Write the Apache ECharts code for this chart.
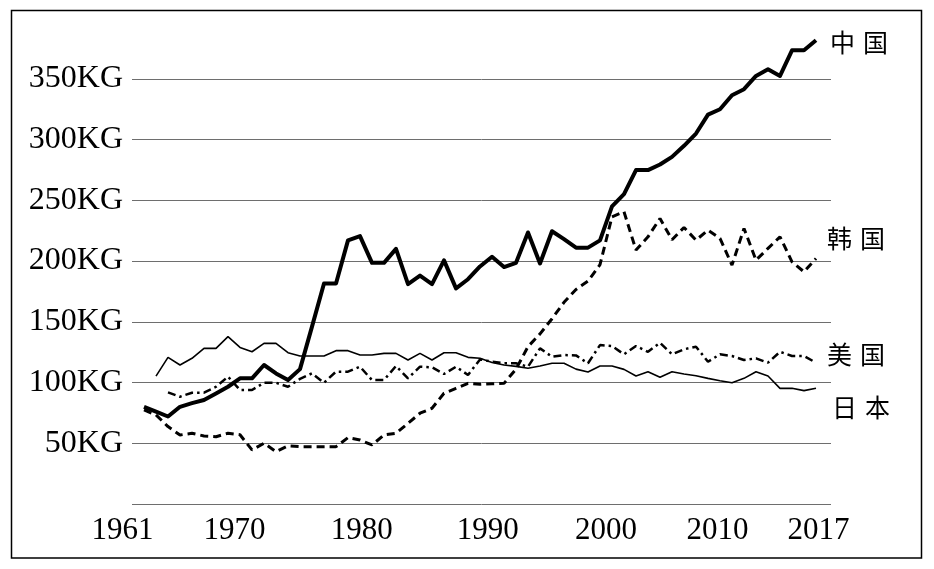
<!DOCTYPE html>
<html>
<head>
<meta charset="utf-8">
<script src="https://cdn.jsdelivr.net/npm/echarts@6/dist/echarts.min.js"></script>
<style>
html,body{margin:0;padding:0;background:#fff;}
#chart{width:934px;height:569px;}
</style>
</head>
<body>
<div id="chart"></div>
<script>
// ---- data ----
const years = [1961,1962,1963,1964,1965,1966,1967,1968,1969,1970,
  1971,1972,1973,1974,1975,1976,1977,1978,1979,1980,
  1981,1982,1983,1984,1985,1986,1987,1988,1989,1990,
  1991,1992,1993,1994,1995,1996,1997,1998,1999,2000,
  2001,2002,2003,2004,2005,2006,2007,2008,2009,2010,
  2011,2012,2013,2014,2015,2016,2017];

const china = [80,76,72,80,83,85.6,91,96.5,103.4,103.4,
  114.4,107.5,102,111,146,181.5,181.5,217,220.5,198.5,
  198.5,210,181,188,181,200.5,177.5,185,195.5,203.5,
  195,198.5,223.5,198,224.5,218,211,211,217,245,
  255,274.8,274.8,279.4,285.7,294.8,304.9,320.5,324.9,336.4,
  341.4,352.3,357.8,352.3,373.4,373.4,381.7];

const korea = [77.4,73.3,63.7,56.8,58.2,56,55.4,58.2,57,44.5,
  50,43.1,47.8,47.2,47.2,47.2,47.2,54.6,52.7,48.6,
  56.8,58.2,66.4,74.7,78.8,91.1,95.2,99.3,98.5,99,
  99.3,111,129.5,140,152.5,166,176.6,183.5,197,236.4,
  240.5,209,219.9,235,217.5,227.6,217.2,225.4,218.6,196.6,
  226.8,200.7,210.4,219.9,199.3,191.1,202.1];

const usa = [null,null,91.9,88.3,91.6,91.6,96.5,104.8,93.8,93.8,
  99.8,99.8,96.5,103,107.5,99.8,108.9,108.9,113,102,
  102,113.6,103.4,113,112.5,107,113,106.2,119,117.1,
  115.8,115.8,113,128.1,121.2,122.6,122.3,115.8,130.8,130,
  123.2,130,125.3,132.7,123.2,127.3,129.5,117.1,123.2,121.8,
  118.5,119.9,116.3,125.3,121.8,121.8,116.3];

const japan = [null,105.3,120.7,114.4,119.9,128.1,128.1,137.7,128.9,125.3,
  132.2,132.2,124.5,121.8,121.8,121.8,126.2,126.2,122.6,122.6,
  124,124,118.5,124,118.5,124.5,124.5,120.7,119.9,116.5,
  114.4,113.3,111.7,113.6,115.8,115.8,111,108.6,113.6,113.6,
  110.8,105.3,108.9,104.3,108.9,107,105.6,103.4,101.5,99.8,
  103.4,108.9,105.3,95.2,95.2,93.3,95.2];

const seriesNames = ['中国','韩国','美国','日本'];
const xTickLabels = ['1961','1970','1980','1990','2000','2010','2017'];
const yTickStep = 50;

// ---- helpers ----
function pairs(vals){ return years.map((y,i)=>[y, vals[i]]); }

// where each x tick label sits along the axis (layout, not data)
const xLabelAt = [1960, 1968.55, 1979.15, 1989.65, 1999.5, 2008.8, 2017.2];

const cjkFont = '"Noto Sans CJK SC", "Noto Sans CJK JP", sans-serif';
function endLabel(offset){
  return {
    show: true,
    distance: 0,
    offset: offset,
    align: 'left',
    verticalAlign: 'middle',
    formatter: function(p){
      const n = p.seriesName;
      return '{p|' + n.charAt(0) + '}{c|' + n.slice(1) + '}';
    },
    rich: {
      p: {fontFamily: cjkFont, fontSize: 25, color: '#000', padding: [0, 8, 0, 0]},
      c: {fontFamily: cjkFont, fontSize: 25, color: '#000'}
    }
  };
}

const chart = echarts.init(document.getElementById('chart'), null, {renderer: 'canvas'});

const option = {
  animation: false,
  backgroundColor: '#fff',
  grid: {left: 132, right: 103, top: 18, bottom: 65, containLabel: false, outerBoundsMode: 'none'},
  xAxis: {
    type: 'value',
    min: 1960,
    max: 2018.25,
    axisLine: {show: false},
    axisTick: {show: false},
    splitLine: {show: false},
    axisLabel: {
      show: true,
      customValues: xLabelAt,
      margin: 11,
      fontFamily: '"Liberation Serif", "Times New Roman", serif',
      fontSize: 31,
      color: '#000',
      formatter: function(v){
        let best = 0;
        for (let i = 1; i < xLabelAt.length; i++) {
          if (Math.abs(xLabelAt[i] - v) < Math.abs(xLabelAt[best] - v)) best = i;
        }
        return best === 0 ? '{f|' + xTickLabels[0] + '}' : xTickLabels[best];
      },
      rich: {
        f: {fontFamily: '"Liberation Serif", "Times New Roman", serif', fontSize: 31, color: '#000', padding: [0, 19, 0, 0]}
      }
    }
  },
  yAxis: {
    type: 'value',
    min: 0,
    max: 400,
    interval: yTickStep,
    axisLine: {show: false},
    axisTick: {show: false},
    axisLabel: {
      showMinLabel: false,
      showMaxLabel: false,
      margin: 9,
      fontFamily: '"Liberation Serif", "Times New Roman", serif',
      fontSize: 32,
      color: '#000',
      formatter: '{value}KG'
    },
    splitLine: {
      show: true,
      showMaxLine: false,
      lineStyle: {color: '#6e6e6e', width: 1}
    }
  },
  graphic: [{
    type: 'rect',
    shape: {x: 11.5, y: 10.5, width: 910, height: 547.5},
    style: {fill: 'none', stroke: '#000', lineWidth: 1.5},
    silent: true,
    z: 100
  }],
  series: [
    {
      name: seriesNames[0], type: 'line', data: pairs(china),
      showSymbol: false, symbol: 'none', z: 5,
      lineStyle: {color: '#000', width: 4, join: 'round'},
      endLabel: endLabel([14, 2])
    },
    {
      name: seriesNames[1], type: 'line', data: pairs(korea),
      showSymbol: false, symbol: 'none', z: 4,
      lineStyle: {color: '#000', width: 3, type: [8, 5]},
      endLabel: endLabel([11, -20])
    },
    {
      name: seriesNames[2], type: 'line', data: pairs(usa),
      showSymbol: false, symbol: 'none', z: 3,
      lineStyle: {color: '#000', width: 2.5, type: [8, 4, 2.5, 4]},
      endLabel: endLabel([11, -8])
    },
    {
      name: seriesNames[3], type: 'line', data: pairs(japan),
      showSymbol: false, symbol: 'none', z: 2,
      lineStyle: {color: '#000', width: 1.6},
      endLabel: endLabel([16, 19])
    }
  ]
};
chart.setOption(option);
</script>
</body>
</html>
